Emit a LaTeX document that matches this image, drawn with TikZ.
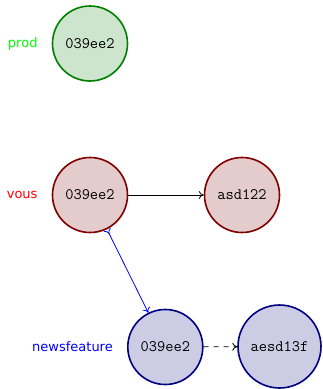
\documentclass[tikz,border=0pt]{standalone}
\usepackage{fontspec}
\newfontfamily\labelfont{DejaVu Sans}
\usetikzlibrary{arrows.meta}
\begin{document}
\begin{tikzpicture}[x=1pt,y=-1pt,
  commit/.style={circle,line width=1.6pt,inner sep=0pt,minimum size=75pt,
    font=\ttfamily\fontsize{16}{19}\selectfont},
  wide/.style={minimum size=83pt},
  gcommit/.style={commit,draw=green!50!black,fill=green!50!black!20},
  rcommit/.style={commit,draw=red!50!black,fill=red!50!black!20},
  bcommit/.style={commit,draw=blue!50!black,fill=blue!50!black!20},
  branchlabel/.style={anchor=east,inner sep=0pt,font=\labelfont\fontsize{13}{15}\selectfont},
  link/.style={line width=0.8pt,-{To[length=5pt,width=8pt]}},
  mergelink/.style={line width=0.8pt,{To[length=5pt,width=8pt,reversed]}-{To[length=5pt,width=8pt]}},
]
\useasboundingbox (0,0) rectangle (323,389);
\node[gcommit] (p1) at (90,43.5) {039ee2};
\node[rcommit] (v1) at (90,195) {039ee2};
\node[rcommit] (v2) at (242,195) {asd122};
\node[bcommit] (n1) at (165.3,347) {039ee2};
\node[bcommit,wide] (n2) at (279.5,346.5) {aesd13f};
\node[branchlabel,text=green] (lp) at ([xshift=-14pt]p1.west) {prod};
\node[branchlabel,text=red] (lv) at ([xshift=-14pt]v1.west) {vous};
\node[branchlabel,text=blue] (ln) at ([xshift=-14pt]n1.west) {newsfeature};
\draw[link] (v1) -- (v2);
\draw[mergelink,blue] (v1) -- (n1);
\draw[link,dash pattern=on 5pt off 5pt] (n1) -- (n2);
\end{tikzpicture}
\end{document}
